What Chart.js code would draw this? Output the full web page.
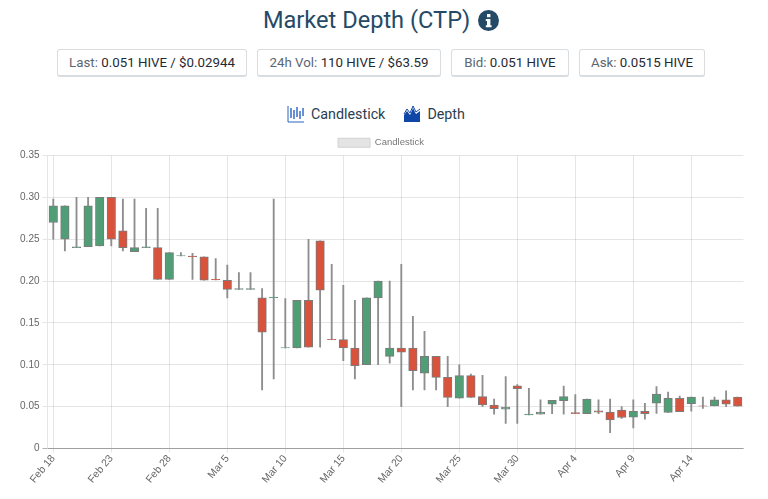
<!DOCTYPE html>
<html>
<head>
<meta charset="utf-8">
<title>Market Depth (CTP)</title>
<script src="https://cdn.jsdelivr.net/npm/chart.js@4"></script>
<style>
  html, body { margin: 0; padding: 0; background: #fff; }
  body { width: 768px; height: 499px; position: relative; overflow: hidden; font-family: Roboto, sans-serif; }
  h1 { position: absolute; left: -3px; width: 768px; top: 2px; margin: 0; text-align: center; font-size: 23.6px; line-height: 36px; font-weight: 400; color: #254a66; }
  h1 svg { vertical-align: -3px; margin-left: 2px; }
  .stats { position: absolute; left: 57px; top: 49px; display: flex; gap: 10px; }
  .stat { box-sizing: border-box; height: 28px; line-height: 26px; border: 1px solid #d9dde0; border-bottom-width: 2px; border-radius: 3px; text-align: center; font-size: 13.3px; color: #5c6670; white-space: nowrap; }
  .stat b { font-weight: 400; color: #1f2a33; }
  .tabs { position: absolute; left: 287px; top: 103px; display: flex; gap: 18px; font-size: 14.3px; line-height: 22px; color: #2c3e50; }
  .tabs span { display: flex; align-items: center; gap: 6px; }
  #wrap { position: absolute; left: 0; top: 127px; width: 768px; height: 372px; }
</style>
</head>
<body>
<h1>Market Depth (CTP) <svg width="21" height="21" viewBox="0 0 21 21"><circle cx="10.5" cy="10.5" r="10.5" fill="#254a66"/><rect x="9" y="4" width="3.4" height="3.2" fill="#fff"/><path d="M7.8 9h4.6v6.2h1.2v2H7.8v-2H9v-4.2H7.8z" fill="#fff"/></svg></h1>
<div class="stats">
  <div class="stat" style="width:190px">Last: <b>0.051 HIVE / $0.02944</b></div>
  <div class="stat" style="width:184px">24h Vol: <b>110 HIVE / $63.59</b></div>
  <div class="stat" style="width:118px">Bid: <b>0.051 HIVE</b></div>
  <div class="stat" style="width:126px">Ask: <b>0.0515 HIVE</b></div>
</div>
<div class="tabs">
  <span><svg width="18" height="18" viewBox="0 0 18 18"><path d="M1 1v16h16" fill="none" stroke="#2a62c0" stroke-width="1"/><path d="M4 3v10M7 5v9M10 2v10M13 6v8M16 3v8" stroke="#2a62c0" stroke-width="1.4"/></svg>Candlestick</span>
  <span><svg width="18" height="18" viewBox="0 0 18 18"><path d="M1 17V10l3-4 3 4 3-7 3 6 4-3v11z" fill="#0f46a8"/><path d="M1 9l3-5 3 4 3-7 3 6 4-3" fill="none" stroke="#0f46a8" stroke-width="1"/></svg>Depth</span>
</div>
<div id="wrap"><canvas id="Candles" width="768" height="372"></canvas></div>

<script>
const labels = ['Feb 18','Feb 19','Feb 20','Feb 21','Feb 22','Feb 23','Feb 24','Feb 25','Feb 26','Feb 27','Feb 28',
    'Mar 1','Mar 2','Mar 3','Mar 4','Mar 5','Mar 6','Mar 7','Mar 8','Mar 9','Mar 10','Mar 11','Mar 12','Mar 13','Mar 14',
    'Mar 15','Mar 16','Mar 17','Mar 18','Mar 19','Mar 20','Mar 21','Mar 22','Mar 23','Mar 24','Mar 25','Mar 26','Mar 27',
    'Mar 28','Mar 29','Mar 30','Mar 31','Apr 1','Apr 2','Apr 3','Apr 4','Apr 5','Apr 6','Apr 7','Apr 8','Apr 9','Apr 10',
    'Apr 11','Apr 12','Apr 13','Apr 14','Apr 15','Apr 16','Apr 17','Apr 18'];

const opens = [0.27,0.25,0.24,0.241,0.242,0.30,0.26,0.235,0.24,0.24,0.202,0.23,0.23,0.229,0.202,0.201,0.19,0.19,0.18,0.18,
    0.12,0.12,0.177,0.248,0.1305,0.13,0.12,0.10,0.18,0.11,0.12,0.12,0.09,0.11,0.085,0.06,0.087,0.062,0.052,0.047,
    0.075,0.04,0.041,0.053,0.057,0.043,0.0415,0.045,0.0435,0.046,0.0375,0.0445,0.054,0.043,0.06,0.0535,0.051,0.051,0.058,0.0615];
const closes = [0.29,0.29,0.241,0.29,0.30,0.25,0.24,0.24,0.241,0.202,0.234,0.2305,0.229,0.201,0.2015,0.19,0.191,0.191,0.139,0.181,
    0.1205,0.177,0.121,0.189,0.13,0.12,0.099,0.18,0.20,0.12,0.115,0.093,0.11,0.085,0.061,0.087,0.061,0.052,0.0475,0.0495,
    0.0715,0.041,0.0435,0.0575,0.062,0.0415,0.059,0.0435,0.034,0.037,0.0445,0.0415,0.065,0.06,0.044,0.0615,0.0505,0.058,0.053,0.0505];
const highs = [0.298,0.29,0.30,0.30,0.30,0.30,0.298,0.298,0.287,0.287,0.234,0.234,0.233,0.229,0.227,0.219,0.21,0.21,0.191,0.298,
    0.179,0.177,0.25,0.248,0.22,0.195,0.177,0.18,0.20,0.20,0.22,0.158,0.14,0.11,0.11,0.10,0.089,0.0875,0.059,0.086,
    0.0765,0.072,0.058,0.0575,0.0745,0.0645,0.059,0.058,0.059,0.05,0.058,0.054,0.074,0.0675,0.0625,0.0615,0.0615,0.0615,0.069,0.0615];
const lows = [0.25,0.236,0.24,0.241,0.242,0.242,0.236,0.235,0.24,0.202,0.202,0.23,0.202,0.201,0.2015,0.18,0.19,0.19,0.07,0.083,
    0.12,0.12,0.121,0.121,0.13,0.105,0.083,0.10,0.10,0.102,0.05,0.07,0.07,0.07,0.05,0.06,0.061,0.05,0.041,0.03,
    0.03,0.04,0.041,0.0415,0.041,0.0415,0.0415,0.0415,0.019,0.036,0.0245,0.035,0.042,0.043,0.044,0.0445,0.048,0.051,0.05,0.0505];

const colorUp = '#4f9e75';
const colorDown = '#d9523b';

// Legend sits a bit lower than the default and takes less room above the plot
const tightLegend = {
    id: 'tightLegend',
    beforeInit(chart) {
        const fit = chart.legend.fit;
        chart.legend.fit = function () {
            fit.call(this);
            this.height -= 2;
        };
    }
};

new Chart(document.getElementById('Candles').getContext('2d'), {
    type: 'bar',
    plugins: [tightLegend],
    data: {
        labels: labels,
        datasets: [
            {
                label: 'Candlestick',
                data: labels.map((l, i) => [opens[i], closes[i]]),
                backgroundColor: labels.map((l, i) => closes[i] >= opens[i] ? colorUp : colorDown),
                borderColor: '#7b7b7b',
                borderWidth: 1,
                borderSkipped: false,
                barThickness: 8.5,
                grouped: false,
                order: 1
            },
            {
                label: 'Wick',
                data: labels.map((l, i) => [lows[i], highs[i]]),
                backgroundColor: '#8e8e8e',
                borderWidth: 0,
                barThickness: 1.2,
                grouped: false,
                order: 2
            }
        ]
    },
    options: {
        responsive: false,
        animation: false,
        layout: { padding: { left: 18.5, right: 24.5, top: 1 } },
        plugins: {
            tooltip: { enabled: false },
            legend: {
                position: 'top',
                labels: {
                    color: '#666',
                    font: { family: '"Liberation Sans", Arial, sans-serif', size: 9.5 },
                    boxWidth: 32,
                    boxHeight: 9,
                    generateLabels: () => [{
                        text: 'Candlestick',
                        fillStyle: '#e4e4e4',
                        strokeStyle: '#d2d2d2',
                        lineWidth: 1,
                        fontColor: '#777'
                    }]
                }
            }
        },
        scales: {
            x: {
                offset: true,
                afterBuildTicks: scale => { scale.ticks = scale.ticks.filter(t => t.value % 5 === 0); },
                afterFit: scale => { scale.height = 50.5; },
                grid: { color: 'rgba(0,0,0,0.1)', tickLength: 4, offset: false },
                border: { color: 'rgba(0,0,0,0.1)' },
                ticks: {
                    autoSkip: false,
                    minRotation: 50,
                    maxRotation: 50,
                    padding: 0,
                    color: '#666',
                    font: { family: '"Liberation Sans", Arial, sans-serif', size: 10.5 }
                }
            },
            y: {
                min: 0,
                max: 0.35,
                afterFit: scale => { scale.width = 29; },
                grid: {
                    color: ctx => ctx.tick && ctx.tick.value === 0 ? 'rgba(0,0,0,0.3)' : 'rgba(0,0,0,0.1)',
                    tickLength: 5
                },
                border: { color: 'rgba(0,0,0,0.1)' },
                ticks: {
                    stepSize: 0.05,
                    padding: 3,
                    color: '#666',
                    font: { family: '"Liberation Sans", Arial, sans-serif', size: 10 },
                    callback: v => v === 0 ? '0' : v.toFixed(2)
                }
            }
        }
    }
});
</script>
</body>
</html>
